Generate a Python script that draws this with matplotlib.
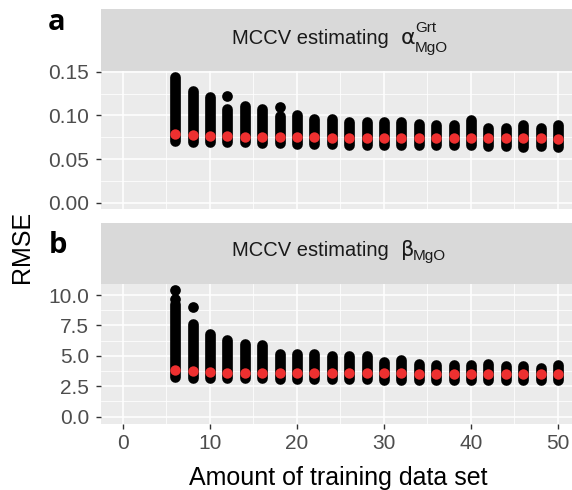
import matplotlib
matplotlib.use("Agg")
import matplotlib.pyplot as plt
from matplotlib.ticker import FixedLocator

plt.rcParams['font.family'] = ['Liberation Sans', 'DejaVu Sans']

# ---------------- data ----------------
train_size = [6, 8, 10, 12, 14, 16, 18, 20, 22, 24, 26, 28, 30, 32, 34, 36,
              38, 40, 42, 44, 46, 48, 50]

# panel a: RMSE of alpha_MgO^Grt (range of MCCV repeats + mean)
alpha_min = [0.0702, 0.0700, 0.0698, 0.0695, 0.0690, 0.0688, 0.0685, 0.0675,
             0.0668, 0.0668, 0.0665, 0.0665, 0.0664, 0.0660, 0.0660, 0.0660,
             0.0658, 0.0662, 0.0645, 0.0645, 0.0640, 0.0645, 0.0640]
alpha_max = [0.1445, 0.1283, 0.1210, 0.1077, 0.1104, 0.1077, 0.0989, 0.1009,
             0.0963, 0.0963, 0.0924, 0.0924, 0.0924, 0.0920, 0.0905, 0.0886,
             0.0886, 0.0943, 0.0855, 0.0855, 0.0886, 0.0855, 0.0886]
alpha_mean = [0.0783, 0.0775, 0.0764, 0.0764, 0.0756, 0.0752, 0.0752, 0.0750,
              0.0748, 0.0746, 0.0745, 0.0745, 0.0744, 0.0743, 0.0743, 0.0742,
              0.0742, 0.0741, 0.0740, 0.0739, 0.0738, 0.0736, 0.0731]
alpha_out_x = [12, 18]
alpha_out_y = [0.1222, 0.1100]

# panel b: RMSE of beta_MgO
beta_min = [3.23, 3.20, 3.18, 3.17, 3.16, 3.15, 3.13, 3.10, 3.08, 3.08, 3.07,
            3.06, 3.05, 3.05, 3.04, 3.04, 3.04, 3.03, 3.03, 3.03, 3.02, 3.02,
            3.02]
beta_max = [9.30, 7.65, 6.83, 6.28, 6.00, 5.92, 5.18, 5.12, 5.12, 4.96, 4.96,
            4.96, 4.49, 4.63, 4.36, 4.22, 4.22, 4.27, 4.30, 4.17, 4.17, 4.00,
            4.27]
beta_mean = [3.84, 3.78, 3.64, 3.63, 3.62, 3.59, 3.58, 3.57, 3.56, 3.56, 3.56,
             3.55, 3.55, 3.55, 3.54, 3.54, 3.54, 3.53, 3.53, 3.52, 3.52, 3.51,
             3.50]
beta_out_x = [6, 6, 8]
beta_out_y = [10.41, 9.70, 9.04]

a_yticks = [0.00, 0.05, 0.10, 0.15]
a_ylabels = ['0.00', '0.05', '0.10', '0.15']
b_yticks = [0.0, 2.5, 5.0, 7.5, 10.0]
b_ylabels = ['0.0', '2.5', '5.0', '7.5', '10.0']
x_ticks = [0, 10, 20, 30, 40, 50]

strip_main = 'MCCV estimating'
strip_a_sym, strip_a_sup, strip_a_sub = '\u03b1', 'Grt', 'MgO'
strip_b_sym, strip_b_sub = '\u03b2', 'MgO'

# ---------------- figure ----------------
W, H = 572, 490
fig = plt.figure(figsize=(W / 100, H / 100), dpi=100)


def fx(px):
    return px / W


def fy(py):
    return 1 - py / H


left = fx(101)
width = 1.0 - left

ax_a = fig.add_axes([left, fy(209.3), width, (209.3 - 70.7) / H])
ax_b = fig.add_axes([left, fy(424.0), width, (424.0 - 284.3) / H])
st_a = fig.add_axes([left, fy(70.7), width, (70.7 - 9.0) / H])
st_b = fig.add_axes([left, fy(284.3), width, (284.3 - 222.7) / H])

BLACK_LW = 7.7   # points (dot diameter)
RED_S = 56
TICK_FS = 15


def style(ax, yticks, ylabels, ylim, show_x):
    ax.set_facecolor('#EBEBEB')
    for s in ax.spines.values():
        s.set_visible(False)
    ax.set_xlim(-2.53, 51.62)
    ax.set_ylim(*ylim)
    ax.xaxis.set_major_locator(FixedLocator(x_ticks))
    ax.xaxis.set_minor_locator(FixedLocator([-5, 5, 15, 25, 35, 45]))
    ax.set_yticks(yticks)
    ax.set_yticklabels(ylabels)
    step = yticks[1] - yticks[0]
    ax.yaxis.set_minor_locator(FixedLocator([t + step / 2 for t in yticks]))
    ax.grid(which='major', color='white', linewidth=1.1)
    ax.grid(which='minor', color='white', linewidth=0.55)
    ax.set_axisbelow(True)
    ax.tick_params(axis='y', which='major', length=3.6, width=1.0,
                   color='#333333', labelcolor='#4D4D4D', labelsize=TICK_FS,
                   pad=5)
    ax.tick_params(which='minor', length=0)
    if show_x:
        ax.tick_params(axis='x', which='major', length=3.6, width=1.0,
                       color='#333333', labelcolor='#4D4D4D',
                       labelsize=TICK_FS, pad=3.5)
    else:
        ax.tick_params(axis='x', which='major', length=0, labelbottom=False)


def draw(ax, mins, maxs, means, ox, oy):
    lc = ax.vlines(train_size, mins, maxs, colors='black', linewidth=BLACK_LW,
                   zorder=3)
    lc.set_capstyle('round')
    ax.scatter(ox, oy, s=BLACK_LW ** 2, color='black', zorder=3,
               linewidths=0)
    ax.scatter(train_size, means, s=RED_S, color='#EE3030', zorder=4,
               linewidths=0)


style(ax_a, a_yticks, a_ylabels, (-0.0076, 0.1512), False)
style(ax_b, b_yticks, b_ylabels, (-0.60, 10.88), True)
draw(ax_a, alpha_min, alpha_max, alpha_mean, alpha_out_x, alpha_out_y)
draw(ax_b, beta_min, beta_max, beta_mean, beta_out_x, beta_out_y)

for st in (st_a, st_b):
    st.set_facecolor('#D9D9D9')
    st.set_xticks([])
    st.set_yticks([])
    for s in st.spines.values():
        s.set_visible(False)

TXT = '#1A1A1A'
STRIP_FS = 14.5
# strip a label
fig.text(fx(231.5), fy(44), strip_main, ha='left', va='baseline',
         fontsize=STRIP_FS, color=TXT)
fig.text(fx(400.5), fy(44), strip_a_sym, ha='left', va='baseline',
         fontsize=16, color=TXT, family=['DejaVu Sans'])
fig.text(fx(415), fy(32), strip_a_sup, ha='left', va='baseline',
         fontsize=11, color=TXT)
fig.text(fx(415), fy(52), strip_a_sub, ha='left', va='baseline',
         fontsize=11, color=TXT)
# strip b label
fig.text(fx(231.5), fy(256), strip_main, ha='left', va='baseline',
         fontsize=STRIP_FS, color=TXT)
fig.text(fx(401.5), fy(256), strip_b_sym, ha='left', va='baseline',
         fontsize=15, color=TXT, family=['DejaVu Sans'])
fig.text(fx(413), fy(260), strip_b_sub, ha='left', va='baseline',
         fontsize=11, color=TXT)

fig.text(fx(57), fy(23), 'a', ha='center', va='center', fontsize=21,
         fontweight='bold', family=['Open Sans', 'DejaVu Sans'])
fig.text(fx(58), fy(245), 'b', ha='center', va='center', fontsize=21,
         fontweight='bold', family=['Open Sans', 'DejaVu Sans'])

fig.text(fx(22), fy(246.7), 'RMSE', rotation=90, ha='center', va='center',
         fontsize=18, color='black')
fig.text(fx(338), fy(485), 'Amount of training data set', ha='center',
         va='baseline', fontsize=18, color='black')

fig.savefig('out.png', dpi=100)
